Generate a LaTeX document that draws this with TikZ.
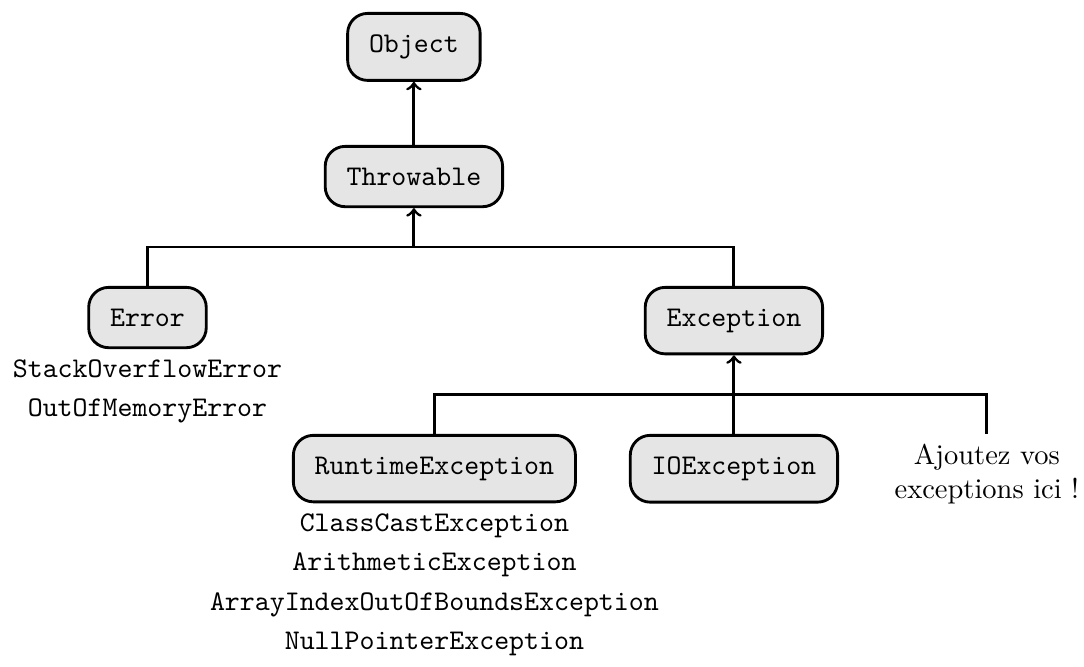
\documentclass[tikz,border=0pt]{standalone}
\usetikzlibrary{positioning,calc}

\tikzset{
  classe/.style={draw, line width=1pt, rounded corners=7pt, fill=gray!20,
    inner sep=7.5pt, font=\ttfamily, anchor=north},
  exemple/.style={font=\ttfamily, text height=6.5pt, text depth=2.5pt,
    inner sep=2.2pt},
  lien/.style={line width=1pt},
}

\begin{document}
\begin{tikzpicture}
\useasboundingbox (0,0) rectangle (13.37,8.225);

% les classes
\node[classe] (object) at (5.105,8.077) {Object};
\node[classe] (throwable) at (5.105,6.437) {Throwable};
\node[classe] (error) at (1.819,4.698) {Error};
\node[classe] (exception) at (9.052,4.698) {Exception};
\node[classe] (runtime) at (5.358,2.873) {RuntimeException};
\node[classe] (ioexception) at (9.052,2.873) {IOException};
\node[anchor=north, align=center] (autres) at (12.172,2.873)
  {Ajoutez vos\\exceptions ici !};

% quelques sous-classes
\node[exemple, below=1pt of error] (stackoverflow) {StackOverflowError};
\node[exemple, below=0pt of stackoverflow] (outofmemory) {OutOfMemoryError};
\node[exemple, below=1pt of runtime] (classcast) {ClassCastException};
\node[exemple, below=0pt of classcast] (arithmetic) {ArithmeticException};
\node[exemple, below=0pt of arithmetic] (arrayindex) {ArrayIndexOutOfBoundsException};
\node[exemple, below=0pt of arrayindex] (nullpointer) {NullPointerException};

% heritage
\coordinate (bus1) at ($(throwable.south)!.5!(throwable.south |- error.north)$);
\coordinate (bus2) at ($(exception.south)!.5!(exception.south |- runtime.north)$);
\draw[lien, ->] (throwable.north) -- (object.south);
\draw[lien] (error.north) |- (bus1) -| (exception.north);
\draw[lien, ->] (bus1) -- (throwable.south);
\draw[lien] (runtime.north) |- (bus2) -| (autres.north);
\draw[lien, ->] (ioexception.north) -- (exception.south);
\end{tikzpicture}
\end{document}
